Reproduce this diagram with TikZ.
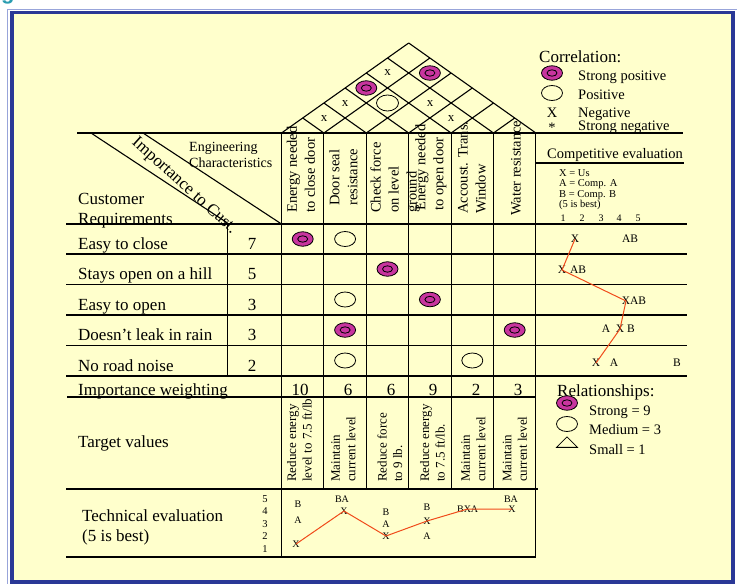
\documentclass[tikz,border=0pt]{standalone}
\usepackage{fontspec}
\setmainfont{Liberation Serif}
\setsansfont{Liberation Sans}
\usetikzlibrary{shapes.geometric}

\definecolor{paper}{HTML}{FFFFCC}
\definecolor{frameblue}{HTML}{2A3896}
\definecolor{framelight}{HTML}{98A4DA}
\definecolor{strongfill}{HTML}{C8359E}
\definecolor{trend}{HTML}{F04A1A}
\definecolor{titleteal}{HTML}{2A9DB0}

\newcommand{\fs}[2]{\fontsize{#1}{#2}\selectfont}

\tikzset{
  gridrule/.style={line width=1.1pt, draw=black},
  strongrel/.style={ellipse, draw=black, line width=0.8pt, fill=strongfill,
    minimum width=21pt, minimum height=14.5pt, inner sep=0pt,
    path picture={\draw[line width=0.8pt] (path picture bounding box.center)
      ellipse [x radius=5pt, y radius=3.2pt];}},
  openrel/.style={ellipse, draw=black, line width=0.8pt,
    minimum width=21pt, minimum height=15pt, inner sep=0pt},
  rowtext/.style={anchor=base west, inner sep=0pt, font=\fs{17}{20}},
  numtext/.style={anchor=base, inner sep=0pt, font=\fs{17}{20}},
  colhead/.style={rotate=90, anchor=west, align=left, inner sep=0pt, font=\fs{14.5}{18}},
  targettext/.style={rotate=90, anchor=west, align=left, inner sep=0pt, font=\fs{13}{15.5}},
  legtext/.style={anchor=base west, inner sep=0pt, font=\fs{14.5}{17}},
  keytext/.style={anchor=base west, inner sep=0pt, font=\fs{10.5}{12}},
  cmark/.style={inner sep=0pt, font=\fs{11.5}{12}},
  tmark/.style={inner sep=0pt, font=\fs{10}{11}},
  trendline/.style={draw=trend, line width=1pt},
}

\begin{document}
\begin{tikzpicture}[x=1pt, y=-1pt]
\useasboundingbox (0,0) rectangle (737,584);

% slide background and frame
\fill[white] (0,0) rectangle (737,584);
\node[text=titleteal, font=\sffamily\bfseries\fs{22}{24}, anchor=base west, inner sep=0pt] (ttl) at (1,-1) {g};
\fill[paper] (12,12.5) rectangle (733,582);
\draw[framelight, line width=1pt] (7.5,9) rectangle (737.5,590);
\draw[frameblue, line width=3.5pt] (12,12.5) rectangle (733,582);

% ---------- roof (correlation matrix) ----------
\foreach \k in {0,...,6}{
  \pgfmathsetmacro{\bx}{281.5+42.4*\k}
  \draw[gridrule] (\bx,133) -- ++({(6-\k)*21.2},{-(6-\k)*15});
  \draw[gridrule] (\bx,133) -- ++({-\k*21.2},{-\k*15});
}
% correlation entries: cell (i,j) at x=(c_i+c_j)/2, y=133-15(j-i)
\node[font=\fs{13}{14}, inner sep=0pt] (x12) at (324,119) {x};
\node[font=\fs{13}{14}, inner sep=0pt] (x13) at (345,104) {x};
\node[strongrel] (s14) at (366.3,88) {};
\node[font=\fs{13}{14}, inner sep=0pt] (x15) at (387.5,73) {x};
\node[strongrel] (s26) at (429.9,73) {};
\node[openrel, minimum width=22pt, minimum height=16pt] (o24) at (387.5,103) {};
\node[font=\fs{13}{14}, inner sep=0pt] (x35) at (430,104) {x};
\node[font=\fs{13}{14}, inner sep=0pt] (x45) at (451,119) {x};

% ---------- grid ----------
\draw[gridrule] (77,133) -- (683,133);
\draw[gridrule] (66,224) -- (687,224);
\foreach \y in {254,284.5,315,345.5,376}{\draw[gridrule] (66,\y) -- (687,\y);}
\draw[gridrule] (67,397) -- (535.9,397);
\draw[gridrule] (66,489) -- (538,489);
\draw[gridrule] (66,557) -- (535.9,557);
\draw[gridrule] (281.5,133) -- (281.5,557);
\foreach \k in {1,...,5}{\draw[gridrule] ({281.5+42.4*\k},133) -- ({281.5+42.4*\k},489);}
\draw[gridrule] (535.9,133) -- (535.9,557);
\draw[gridrule] (227.5,223) -- (227.5,376);
\draw[gridrule] (536,163) -- (684,163);
% diagonal band of the corner cell
\draw[gridrule] (91,133) -- (227.5,223);
\draw[gridrule] (143,133) -- (281.5,224);

% ---------- corner cell texts ----------
\node[anchor=base west, align=left, inner sep=0pt, font=\fs{14}{15.5}] (engc) at (189,167)
  {Engineering\\Characteristics};
\node[rotate=-42, inner sep=0pt, font=\fs{17}{20}] (imp) at (184,186) {Importance to Cust.};
\node[rowtext] (custreq) at (78,204) {Customer};
\node[rowtext] (custreq2) at (78,224) {Requirements};

% ---------- column headings ----------
\node[colhead] (h1) at (301,213) {Energy needed\\to close door};
\node[colhead] (h2) at (343.5,206) {Door seal\\resistance};
\node[colhead] (h3) at (395,213) {Check force\\on level\\ground};
\node[colhead] (h4) at (431,211) {Energy needed\\to open door};
\node[colhead] (h5) at (472,214) {Accoust. Trans.\\Window};
\node[colhead] (h6) at (516,216) {Water resistance};

% ---------- customer requirements ----------
\node[rowtext] (r1) at (78,249) {Easy to close};
\node[rowtext] (r2) at (78,279.5) {Stays open on a hill};
\node[rowtext] (r3) at (78,310) {Easy to open};
\node[rowtext] (r4) at (78,340.5) {Doesn’t leak in rain};
\node[rowtext] (r5) at (78,371) {No road noise};
\node[numtext] (i1) at (252,249) {7};
\node[numtext] (i2) at (252,279.5) {5};
\node[numtext] (i3) at (252,310) {3};
\node[numtext] (i4) at (252,340.5) {3};
\node[numtext] (i5) at (252,371) {2};

% ---------- relationship matrix ----------
\node[strongrel] (m11) at (302.7,239) {};
\node[openrel]   (m12) at (345.1,239) {};
\node[strongrel] (m23) at (387.5,269) {};
\node[openrel]   (m32) at (345.1,299.5) {};
\node[strongrel] (m34) at (429.9,299.5) {};
\node[strongrel] (m42) at (345.1,330) {};
\node[strongrel] (m46) at (514.7,330) {};
\node[openrel]   (m52) at (345.1,360.5) {};
\node[openrel]   (m55) at (472.3,360.5) {};

% ---------- importance weighting ----------
\node[rowtext] (iw) at (78,395) {Importance weighting};
\node[numtext] (w1) at (300,395) {10};
\node[numtext] (w2) at (348,395) {6};
\node[numtext] (w3) at (391,395) {6};
\node[numtext] (w4) at (433,395) {9};
\node[numtext] (w5) at (476,395) {2};
\node[numtext] (w6) at (518,395) {3};

% ---------- target values ----------
\node[rowtext] (tv) at (78,447) {Target values};
\node[targettext] (t1) at (299.5,482) {Reduce energy\\level to 7.5 ft/lb};
\node[targettext] (t2) at (343.5,482) {Maintain\\current level};
\node[targettext] (t3) at (390,482) {Reduce force\\to 9 lb.};
\node[targettext] (t4) at (432.5,482) {Reduce energy\\to 7.5 ft/lb.};
\node[targettext] (t5) at (473.5,482) {Maintain\\current level};
\node[targettext] (t6) at (515,482) {Maintain\\current level};

% ---------- technical evaluation ----------
\node[rowtext] (te) at (82,521) {Technical evaluation};
\node[rowtext] (te2) at (82,541) {(5 is best)};
\foreach \v/\y in {5/499,4/511.5,3/524,2/536.5,1/549}{
  \node[tmark, font=\fs{10.5}{11}] (sc\v) at (265,\y) {\v};
}
\node[tmark] (tb1) at (298,504) {B};
\node[tmark] (ta1) at (298,520) {A};
\node[tmark] (tx1) at (296,544) {X};
\node[tmark] (tba2) at (342,499) {BA};
\node[tmark] (tx2) at (344,511) {X};
\node[tmark] (tb3) at (386,512) {B};
\node[tmark] (ta3) at (386,524) {A};
\node[tmark] (tx3) at (386,536) {X};
\node[tmark] (tb4) at (427,507) {B};
\node[tmark] (tx4) at (427,521) {X};
\node[tmark] (ta4) at (427,536) {A};
\node[tmark] (tb5) at (460.5,509) {B};
\node[tmark] (tx5) at (467.5,509) {X};
\node[tmark] (ta5) at (474.5,509) {A};
\node[tmark] (tba6) at (511,499) {BA};
\node[tmark] (tx6) at (512,509) {X};
\draw[trendline] (tx1.center) -- (tx2.center) -- (tx3.center) -- (tx4.center)
  -- (tx5.center) -- (tx6.center);

% ---------- correlation key ----------
\node[rowtext] (corr) at (539,62) {Correlation:};
\node[strongrel] (ks) at (552,73) {};
\node[legtext] (kst) at (578,80) {Strong positive};
\node[openrel] (ko) at (552,93) {};
\node[legtext] (kpt) at (578,99) {Positive};
\node[font=\fs{14.5}{17}, inner sep=0pt, anchor=base] (kx) at (552,117) {X};
\node[legtext] (knt) at (578,117) {Negative};
\node[font=\fs{14.5}{17}, inner sep=0pt, anchor=base] (kast) at (552,132) {*};
\node[legtext] (ksnt) at (578,130) {Strong negative};

% ---------- competitive evaluation ----------
\node[legtext] (ce) at (547,158) {Competitive evaluation};
\node[keytext] (k1) at (559,176) {X = Us};
\node[keytext] (k2) at (559,186.5) {A = Comp. A};
\node[keytext] (k3) at (559,197) {B = Comp. B};
\node[keytext] (k4) at (559,207.5) {(5 is best)};
\foreach \v/\x in {1/563,2/582,3/601,4/619,5/638}{
  \node[cmark, font=\fs{10}{11}, anchor=base] (cs\v) at (\x,221) {\v};
}
\node[cmark] (cx1) at (575,239) {X};
\node[cmark] (cab1) at (630,239) {AB};
\node[cmark] (cx2) at (562,270) {X};
\node[cmark] (cab2) at (578,270) {AB};
\node[cmark] (cx3) at (626,301) {X};
\node[cmark] (cab3) at (638,301) {AB};
\node[cmark] (ca4) at (606,329) {A};
\node[cmark] (cx4) at (620,329) {X};
\node[cmark] (cb4) at (631,329) {B};
\node[cmark] (cx5) at (596,363) {X};
\node[cmark] (ca5) at (614,363) {A};
\node[cmark] (cb5) at (677,363) {B};
\draw[trendline] (cx1.center) -- (cx2.center) -- (cx3.center) -- (cx4.center) -- (cx5.center);

% ---------- relationship key ----------
\node[rowtext] (rel) at (557,396) {Relationships:};
\node[strongrel] (rs) at (567,403) {};
\node[legtext] (rst) at (589,415) {Strong = 9};
\node[openrel] (ro) at (567,424) {};
\node[legtext] (rmt) at (589,434) {Medium = 3};
\node[draw=black, line width=0.8pt, isosceles triangle, isosceles triangle apex angle=90,
  shape border rotate=90, minimum width=21pt, minimum height=10pt, inner sep=0pt] (rtri) at (567,443) {};
\node[legtext] (rsm) at (589,454) {Small = 1};
\end{tikzpicture}
\end{document}
